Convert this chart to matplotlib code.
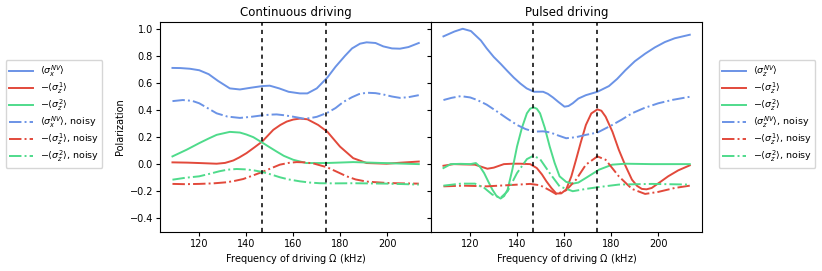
import numpy as np
import matplotlib
matplotlib.use("Agg")
import matplotlib.pyplot as plt

# ---------------- data: continuous driving ----------------
c_nv_x = [108.6, 112, 116, 120, 124, 128, 133, 137.3, 142, 146.8, 150, 154, 158, 162.8, 166, 170, 174.5, 178, 182, 185, 188.4, 191.2, 195, 198.3, 202, 205.4, 209, 213.4]
c_nv_y = [0.711, 0.71, 0.705, 0.694, 0.665, 0.615, 0.56, 0.552, 0.565, 0.577, 0.58, 0.56, 0.535, 0.523, 0.523, 0.56, 0.64, 0.72, 0.80, 0.855, 0.89, 0.90, 0.895, 0.87, 0.855, 0.853, 0.865, 0.895]

c_nvn_x = [108.6, 113, 117, 120, 124, 127.4, 132, 137.3, 142, 146.8, 150, 152.9, 156, 160, 164.3, 167, 170, 174.5, 178, 181.3, 185, 188, 191.2, 195, 198.3, 202, 205.4, 209, 213.4]
c_nvn_y = [0.466, 0.474, 0.468, 0.45, 0.41, 0.376, 0.352, 0.342, 0.35, 0.361, 0.366, 0.368, 0.362, 0.351, 0.337, 0.34, 0.35, 0.38, 0.415, 0.46, 0.495, 0.518, 0.528, 0.525, 0.515, 0.5, 0.49, 0.495, 0.51]

c_z1_x = [108.6, 115, 120, 127.4, 131, 134.5, 137, 140.1, 143.5, 146.8, 151.5, 154.5, 157.2, 160, 162.8, 166, 170.6, 174.5, 179.9, 185.5, 191.2, 199.7, 206, 213.4]
c_z1_y = [0.014, 0.012, 0.009, 0.004, 0.01, 0.028, 0.05, 0.082, 0.125, 0.168, 0.254, 0.29, 0.315, 0.33, 0.337, 0.332, 0.29, 0.24, 0.13, 0.045, 0.009, 0.004, 0.012, 0.02]

c_z2_x = [108.6, 114.6, 120, 124, 127.4, 133, 137.3, 140, 143, 146.8, 150, 152.9, 156, 160, 165.5, 174, 185.5, 198.3, 213.4]
c_z2_y = [0.058, 0.107, 0.156, 0.19, 0.217, 0.239, 0.234, 0.22, 0.2, 0.16, 0.125, 0.094, 0.062, 0.033, 0.009, 0.009, 0.016, 0.009, 0.001]

c_z1n_x = [108.6, 114, 120, 126, 131.6, 135, 138.7, 142.5, 146.8, 150.5, 154.3, 158, 161.4, 165, 169, 174.5, 178.5, 182.7, 186.5, 191.2, 199.7, 206, 213.4]
c_z1n_y = [-0.145, -0.147, -0.145, -0.141, -0.133, -0.123, -0.109, -0.085, -0.057, -0.03, -0.003, 0.01, 0.016, 0.014, 0.004, -0.023, -0.055, -0.089, -0.112, -0.128, -0.138, -0.141, -0.143]

c_z2n_x = [108.6, 114, 120, 124.5, 128.5, 132, 135.9, 140, 143.5, 146.8, 150.5, 154.3, 158, 162.8, 167, 171.3, 178, 185.5, 199.7, 206, 213.4]
c_z2n_y = [-0.114, -0.1, -0.089, -0.07, -0.052, -0.04, -0.035, -0.038, -0.046, -0.057, -0.075, -0.096, -0.112, -0.126, -0.135, -0.14, -0.141, -0.14, -0.143, -0.146, -0.15]

# ---------------- data: pulsed driving ----------------
p_nv_x = [108.6, 113.3, 116.8, 120.3, 124.5, 127, 130, 133, 135.7, 138.5, 141.3, 144, 147.1, 151, 153, 155.2, 157.5, 160.1, 161.8, 163.6, 166, 169.2, 174.1, 179, 182.5, 186, 190, 194.4, 198.5, 202.8, 207, 213.4]
p_nv_y = [0.944, 0.98, 1.0, 0.983, 0.914, 0.855, 0.792, 0.74, 0.69, 0.64, 0.596, 0.56, 0.535, 0.535, 0.52, 0.493, 0.46, 0.425, 0.43, 0.45, 0.485, 0.51, 0.535, 0.577, 0.63, 0.694, 0.76, 0.816, 0.862, 0.902, 0.93, 0.956]

p_nvn_x = [108.6, 112, 116, 120, 123, 127, 131.5, 135.5, 139.9, 143.5, 147, 151, 154, 157, 160.8, 165, 169.2, 174.1, 180.4, 184.5, 188.8, 194, 200, 206, 213.4]
p_nvn_y = [0.474, 0.49, 0.503, 0.493, 0.474, 0.44, 0.388, 0.34, 0.29, 0.26, 0.241, 0.243, 0.235, 0.215, 0.192, 0.2, 0.217, 0.234, 0.29, 0.33, 0.376, 0.415, 0.45, 0.475, 0.498]

p_z1_x = [108.6, 113, 117, 122, 125, 127.3, 130, 134.3, 138, 141.3, 145.5, 148.3, 150.5, 152.4, 154.5, 156.6, 158.7, 160.8, 163, 165, 167, 169.2, 171.5, 174.1, 175.8, 177.6, 180.5, 183.2, 186, 188.8, 191, 193, 195, 197.2, 200.5, 204.2, 208.5, 213.4]
p_z1_y = [-0.011, 0.001, -0.001, -0.003, -0.02, -0.033, -0.025, 0.001, 0.004, 0.004, 0.001, -0.028, -0.075, -0.126, -0.175, -0.216, -0.215, -0.187, -0.09, 0.033, 0.16, 0.29, 0.375, 0.405, 0.395, 0.351, 0.24, 0.107, -0.01, -0.114, -0.16, -0.182, -0.185, -0.175, -0.135, -0.089, -0.045, -0.008]

p_z2_x = [108.6, 111.7, 116, 120, 122.4, 124.2, 125.9, 127.6, 129.4, 131.2, 132.9, 134.4, 135.9, 137.9, 139.9, 142, 144.1, 145.5, 146.9, 148.3, 149.7, 151.7, 153.8, 155.9, 158, 160.8, 163.6, 166, 169.2, 174.8, 180.4, 186, 197.2, 213.4]
p_z2_y = [-0.028, 0.001, 0.003, 0.001, 0.009, -0.02, -0.065, -0.125, -0.187, -0.235, -0.253, -0.235, -0.187, -0.04, 0.131, 0.27, 0.376, 0.41, 0.42, 0.41, 0.376, 0.27, 0.131, 0.01, -0.089, -0.13, -0.143, -0.135, -0.101, -0.04, -0.003, 0.004, 0.001, 0.001]

p_z1n_x = [108.6, 117, 127, 135.5, 145.5, 149.7, 153.8, 156.6, 160.8, 165, 169.2, 174.1, 177.6, 183.2, 188.8, 194.4, 200, 207, 213.4]
p_z1n_y = [-0.163, -0.158, -0.163, -0.155, -0.145, -0.155, -0.192, -0.221, -0.192, -0.114, -0.003, 0.058, 0.033, -0.089, -0.182, -0.219, -0.204, -0.175, -0.158]

p_z2n_x = [108.6, 116, 122, 126, 129.4, 132.9, 135.9, 139.9, 144.1, 146.9, 149.7, 153.8, 158, 163.6, 169.2, 174.8, 183.2, 197.2, 213.4]
p_z2n_y = [-0.158, -0.143, -0.143, -0.175, -0.224, -0.248, -0.199, -0.065, 0.038, 0.063, 0.038, -0.065, -0.163, -0.199, -0.182, -0.168, -0.15, -0.145, -0.15]

vlines = [146.8, 174.0]

BLUE = "#6b93e6"
RED = "#e2493b"
GREEN = "#4fdb8b"

left_labels = [r"$\langle\sigma_x^{NV}\rangle$", r"$-\langle\sigma_z^1\rangle$", r"$-\langle\sigma_z^2\rangle$",
               r"$\langle\sigma_x^{NV}\rangle$, noisy", r"$-\langle\sigma_z^1\rangle$, noisy", r"$-\langle\sigma_z^2\rangle$, noisy"]
right_labels = [r"$\langle\sigma_z^{NV}\rangle$", r"$-\langle\sigma_z^1\rangle$", r"$-\langle\sigma_z^2\rangle$",
                r"$\langle\sigma_z^{NV}\rangle$, noisy", r"$-\langle\sigma_z^1\rangle$, noisy", r"$-\langle\sigma_z^2\rangle$, noisy"]

plt.rcParams['font.size'] = 7
plt.rcParams['mathtext.fontset'] = 'dejavusans'

fig = plt.figure(figsize=(8.22, 2.71), dpi=100)
axL = fig.add_axes([160/822, 1-232/271, 271/822, 210/271])
axR = fig.add_axes([431/822, 1-232/271, 271/822, 210/271], sharey=axL)

lw = 1.4
def draw(ax, series, labels):
    styles = ['-', '-', '-', '-.', '-.', '-.']
    colors = [BLUE, RED, GREEN, BLUE, RED, GREEN]
    handles = []
    for (x, y), st, c, lab in zip(series, styles, colors, labels):
        h, = ax.plot(x, y, st, color=c, lw=lw, label=lab)
        handles.append(h)
    for v in vlines:
        ax.axvline(v, color='black', ls=(0, (2.7, 2.7)), lw=1.1)
    ax.set_xlabel(r"Frequency of driving $\Omega$ (kHz)", fontsize=7, labelpad=2)
    ax.set_xticks([120, 140, 160, 180, 200])
    ax.tick_params(labelsize=7, length=3, width=0.8, pad=2)
    for s in ax.spines.values():
        s.set_linewidth(0.8)
    return handles

hL = draw(axL, [(c_nv_x, c_nv_y), (c_z1_x, c_z1_y), (c_z2_x, c_z2_y),
                (c_nvn_x, c_nvn_y), (c_z1n_x, c_z1n_y), (c_z2n_x, c_z2n_y)], left_labels)
hR = draw(axR, [(p_nv_x, p_nv_y), (p_z1_x, p_z1_y), (p_z2_x, p_z2_y),
                (p_nvn_x, p_nvn_y), (p_z1n_x, p_z1n_y), (p_z2n_x, p_z2n_y)], right_labels)

axL.set_ylim(-0.5, 1.05)
axL.set_yticks([-0.4, -0.2, 0.0, 0.2, 0.4, 0.6, 0.8, 1.0])
axL.set_xlim(103.3, 218.6)
axR.set_xlim(103.3, 218.6)
plt.setp(axR.get_yticklabels(), visible=False)
axL.set_ylabel("Polarization", fontsize=7, labelpad=3)
axL.set_title("Continuous driving", fontsize=8.5, pad=4)
axR.set_title("Pulsed driving", fontsize=8.5, pad=4)

leg_kw = dict(loc='center', fontsize=6.8, frameon=True, handlelength=2.5, labelspacing=0.2,
              borderpad=0.4, handletextpad=0.7, borderaxespad=0.0)
fig.legend(handles=hL, labels=left_labels, bbox_to_anchor=(54/822, 1-114/271), **leg_kw)
fig.legend(handles=hR, labels=right_labels, bbox_to_anchor=(767/822, 1-114/271), **leg_kw)

fig.savefig("out.png", dpi=100)
